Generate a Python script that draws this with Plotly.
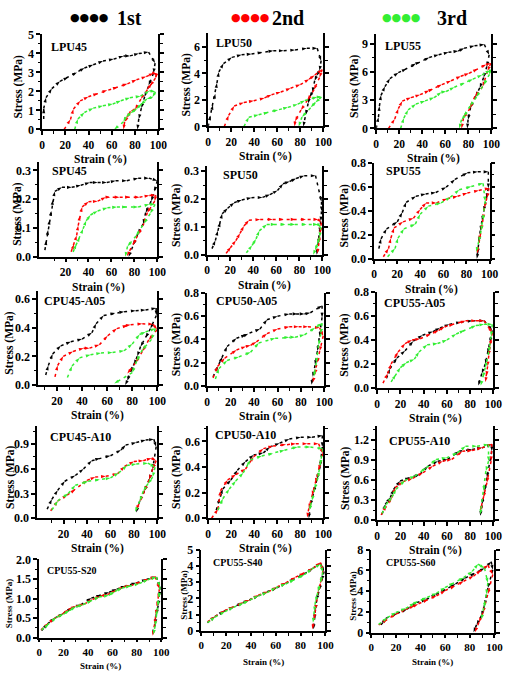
import plotly.graph_objects as go

# ------------------------------------------------------------------ data
# Each panel: strain (%) / stress (MPa) for 1st, 2nd, 3rd cycle (loading + unloading)
LPU45_x1 = [1.4, 1.4, 3.4, 8.4, 15.4, 22.4, 30, 36.4, 44, 52.4, 61.6, 70, 75.6, 83.2, 91.6, 97.2, 95.8, 91.6, 88.2, 85.4, 83.2, 82]
LPU45_y1 = [0.55, 1.1, 1.67, 2.15, 2.53, 2.75, 3.0, 3.23, 3.4, 3.6, 3.7, 3.87, 3.87, 3.99, 4.07, 3.49, 2.96, 2.32, 1.72, 1.12, 0.55, 0]
LPU45_x2 = [19, 24.4, 27, 32.8, 39.8, 48, 56, 65, 73.4, 81.2, 89.6, 95.8, 98.5, 97.5, 93, 90, 85, 80, 76, 73, 71, 70]
LPU45_y2 = [0, 0.52, 1.07, 1.5, 1.72, 1.89, 2.06, 2.23, 2.4, 2.61, 2.78, 2.96, 2.9, 2.7, 2.3, 2.1, 1.6, 1.05, 0.95, 0.6, 0.4, 0]
LPU45_x3 = [28, 30.8, 36.4, 44, 52.4, 60.8, 67.8, 75.6, 84.6, 92.4, 97.5, 95, 90, 85, 81, 76, 72, 70, 62]
LPU45_y3 = [0, 0.55, 0.89, 1.12, 1.24, 1.34, 1.51, 1.67, 1.75, 2.03, 1.98, 1.7, 1.6, 1.3, 1.07, 0.85, 0.65, 0.4, 0]

LPU50_x1 = [0, 2, 4.2, 6.2, 7.6, 9.3, 13.3, 20.6, 29, 37.6, 47, 56.5, 65.5, 75.4, 85.6, 94.6, 98, 96.6, 94, 92.4, 90.4, 88, 86.7, 84.7, 82.5]
LPU50_y1 = [0, 0.83, 1.61, 2.46, 3.27, 4.1, 4.73, 5.2, 5.39, 5.46, 5.59, 5.7, 5.7, 5.76, 5.88, 5.88, 4.95, 4.2, 3.8, 3.44, 2.58, 2.2, 1.73, 0.88, 0]
LPU50_x2 = [14, 17.8, 22.6, 31, 39.5, 48.9, 55, 63, 71.5, 80, 87.6, 92.4, 98.9, 96.6, 91.8, 86.2, 80.5, 75.4, 75]
LPU50_y2 = [0, 0.83, 1.54, 1.8, 1.93, 2.15, 2.39, 2.59, 2.88, 3.15, 3.56, 3.85, 4.29, 3.68, 2.76, 1.98, 1.24, 0.39, 0]
LPU50_x3 = [31, 35.3, 43.8, 52.3, 60.7, 69.2, 77.7, 84, 94.6, 98.3, 93, 89, 81.4, 78.5]
LPU50_y3 = [0, 0.7, 0.88, 1.07, 1.24, 1.44, 1.68, 1.95, 2.22, 2.22, 1.8, 1.44, 0.71, 0]

LPU55_x1 = [0, 2, 2.8, 4.2, 7.6, 11.9, 19.2, 26.3, 34.5, 38.1, 46, 54.2, 62.7, 71.2, 76.3, 85.3, 93.8, 98, 96, 93.2, 89.8, 86.2, 81.9, 79.7, 79]
LPU55_y1 = [0, 1.2, 2.38, 3.52, 4.45, 5.31, 5.93, 6.34, 6.9, 7.07, 7.55, 7.83, 8.1, 8.24, 8.52, 8.79, 8.93, 7.83, 6.6, 5.41, 4.31, 3.41, 2.24, 0.93, 0]
LPU55_x2 = [10.7, 16.1, 19.2, 22.6, 30.2, 38.1, 46, 49.4, 57, 65, 73.4, 80.5, 88.1, 95.5, 99.4, 96.6, 92.4, 85.6, 81.4, 75.7, 74]
LPU55_y2 = [0, 1.0, 2.1, 2.9, 3.28, 3.59, 4.03, 4.2, 4.66, 5.07, 5.55, 5.86, 6.34, 6.79, 6.93, 6.1, 4.45, 3.41, 2.14, 1.1, 0]
LPU55_x3 = [21.2, 24, 27.7, 34.5, 42.4, 50.3, 56.5, 60.7, 67.8, 76.8, 83.9, 91.8, 98.9, 98.3, 93.2, 87, 81.4, 76.3, 74, 72]
LPU55_y3 = [0, 1.1, 1.97, 2.59, 2.93, 3.28, 3.86, 3.93, 4.38, 4.83, 5.24, 5.69, 6.17, 5.76, 4.62, 3.34, 2.38, 1.28, 0.93, 0]

SPU45_x1 = [2, 3.4, 4.8, 6.2, 7.6, 9, 10.7, 16.9, 25.4, 33.3, 41, 48, 56, 63.6, 73.4, 83.3, 92.6, 100, 97.5, 94.6, 89.8, 87.6, 83, 79, 75]
SPU45_y1 = [0.023, 0.057, 0.093, 0.128, 0.159, 0.197, 0.227, 0.241, 0.241, 0.248, 0.258, 0.258, 0.258, 0.264, 0.264, 0.273, 0.273, 0.264, 0.227, 0.193, 0.153, 0.114, 0.08, 0.04, 0]
SPU45_x2 = [24.9, 27.4, 29.7, 31, 32.5, 34.5, 40, 48, 55, 59, 67, 76, 84.5, 93, 98.6, 97.7, 91.2, 88.4, 83.3, 79, 73.4]
SPU45_y2 = [0.017, 0.043, 0.074, 0.108, 0.142, 0.173, 0.191, 0.193, 0.207, 0.207, 0.207, 0.207, 0.207, 0.213, 0.214, 0.193, 0.153, 0.116, 0.076, 0.043, 0.002]
SPU45_x3 = [26.6, 29.5, 32.4, 35.3, 38, 41.7, 48, 56.5, 64.8, 73.4, 83.3, 93, 98, 93.8, 88.4, 81.4, 74, 72]
SPU45_y3 = [0.017, 0.043, 0.068, 0.097, 0.125, 0.145, 0.159, 0.17, 0.173, 0.173, 0.173, 0.182, 0.182, 0.15, 0.116, 0.072, 0.036, 0]

SPU50_x1 = [4.2, 7.1, 9.3, 11.3, 13, 17.8, 23.4, 30, 38.4, 48, 54.5, 61, 65.8, 71.5, 77.1, 84.2, 94, 99.2, 99.2, 98.5, 97.5, 96.3, 95]
SPU50_y1 = [0.022, 0.051, 0.086, 0.117, 0.147, 0.167, 0.187, 0.197, 0.205, 0.206, 0.216, 0.231, 0.255, 0.263, 0.274, 0.284, 0.284, 0.19, 0.156, 0.12, 0.08, 0.04, 0]
SPU50_x2 = [16.4, 20.6, 24.9, 28.5, 31.9, 36.2, 46, 56.8, 66.4, 76.6, 85.6, 96.3, 99, 98.3, 96.9, 95.5]
SPU50_y2 = [0.005, 0.028, 0.051, 0.077, 0.103, 0.124, 0.127, 0.127, 0.127, 0.127, 0.127, 0.127, 0.115, 0.08, 0.042, 0.005]
SPU50_x3 = [34, 39, 42.4, 45.2, 51.7, 59.3, 67.8, 76.3, 86.2, 96, 98.5, 97.5, 95.5, 93.5, 92]
SPU50_y3 = [0.007, 0.034, 0.057, 0.086, 0.109, 0.109, 0.109, 0.109, 0.109, 0.109, 0.1, 0.063, 0.037, 0.016, 0]

SPU55_x1 = [4, 5.9, 10.7, 20, 24.3, 27.7, 36.2, 44.6, 53.4, 62.4, 70, 80.8, 89.8, 99, 99, 97.2, 95, 93.5, 92, 90.7, 89.8, 89]
SPU55_y1 = [0.084, 0.166, 0.248, 0.307, 0.384, 0.47, 0.52, 0.539, 0.552, 0.596, 0.661, 0.716, 0.724, 0.724, 0.588, 0.506, 0.397, 0.316, 0.234, 0.139, 0.044, 0]
SPU55_x2 = [7.9, 12.4, 14.4, 17.2, 25, 34, 39.8, 45, 54, 63.3, 72.3, 80.8, 90.7, 100, 97.7, 95.5, 94.4, 92.7, 90.7, 89.3]
SPU55_y2 = [0.016, 0.084, 0.171, 0.256, 0.307, 0.337, 0.411, 0.465, 0.465, 0.5, 0.52, 0.547, 0.569, 0.588, 0.506, 0.424, 0.329, 0.239, 0.152, 0.044]
SPU55_x3 = [11.6, 18, 20.6, 25.7, 35.6, 39.8, 46.9, 58, 66, 73.7, 84.2, 94.4, 96.3, 94.4, 92.7, 90.7, 88.4]
SPU55_y3 = [0.016, 0.084, 0.171, 0.248, 0.288, 0.37, 0.438, 0.465, 0.512, 0.574, 0.601, 0.628, 0.479, 0.321, 0.234, 0.144, 0.057]

CPU45A05_x1 = [11, 13.1, 16.5, 23, 31, 40, 47.8, 51.2, 57.2, 66.4, 73.5, 82.7, 90.6, 99, 99.2, 94.5, 90.6, 86.6, 84, 81.4, 78.7, 76.1, 74.3]
CPU45A05_y1 = [0.07, 0.136, 0.216, 0.273, 0.302, 0.32, 0.364, 0.427, 0.484, 0.502, 0.511, 0.518, 0.523, 0.536, 0.484, 0.393, 0.33, 0.268, 0.2, 0.143, 0.093, 0.03, 0]
CPU45A05_x2 = [18.4, 20.5, 25, 32.8, 41.2, 45.9, 53.8, 60.4, 67.7, 76.1, 78.7, 88, 96.6, 99.8, 93.1, 88, 82.7, 76.1]
CPU45A05_y2 = [0.057, 0.136, 0.2, 0.234, 0.257, 0.257, 0.28, 0.343, 0.393, 0.416, 0.42, 0.427, 0.423, 0.386, 0.314, 0.234, 0.155, 0.08]
CPU45A05_x3 = [28.3, 32, 38, 46.7, 55.1, 64.3, 73.5, 80, 85.8, 90.6, 98.4, 95.3, 88, 83.5, 80, 65.6]
CPU45A05_y3 = [0.052, 0.132, 0.189, 0.211, 0.223, 0.227, 0.239, 0.286, 0.352, 0.37, 0.393, 0.318, 0.245, 0.166, 0.086, 0.011]

CPU50A05_x1 = [5, 9, 13, 17, 25, 33, 35, 45, 51, 60, 70, 77, 83, 88, 98, 98, 96, 94, 92, 90, 89]
CPU50A05_y1 = [0.08, 0.17, 0.25, 0.34, 0.41, 0.44, 0.45, 0.49, 0.57, 0.6, 0.62, 0.62, 0.62, 0.63, 0.69, 0.59, 0.42, 0.3, 0.18, 0.08, 0.01]
CPU50A05_x2 = [5, 9, 15, 25, 33, 37, 42, 51, 60, 70, 78, 86, 96, 99, 96, 94, 92, 90]
CPU50A05_y2 = [0.07, 0.17, 0.24, 0.31, 0.34, 0.35, 0.38, 0.45, 0.49, 0.51, 0.51, 0.51, 0.5, 0.43, 0.3, 0.2, 0.1, 0.03]
CPU50A05_x3 = [7, 10, 17, 27, 37, 44, 58, 70, 75, 83, 92, 98, 97, 95, 93, 91]
CPU50A05_y3 = [0.06, 0.15, 0.22, 0.25, 0.29, 0.37, 0.41, 0.42, 0.42, 0.44, 0.5, 0.54, 0.45, 0.35, 0.2, 0.08]

CPU55A05_x1 = [8, 11, 17, 24, 31, 39, 48, 54, 62, 72, 82, 92, 99, 97, 95, 93, 90, 87]
CPU55A05_y1 = [0.08, 0.16, 0.25, 0.31, 0.39, 0.44, 0.47, 0.5, 0.53, 0.55, 0.56, 0.56, 0.48, 0.38, 0.29, 0.2, 0.12, 0.02]
CPU55A05_x2 = [5, 9, 12, 18, 24, 30, 37, 46, 53, 58, 66, 76, 85, 92, 99, 97, 96, 95, 94, 93]
CPU55A05_y2 = [0.04, 0.12, 0.2, 0.3, 0.37, 0.4, 0.41, 0.45, 0.48, 0.51, 0.53, 0.56, 0.56, 0.56, 0.46, 0.35, 0.27, 0.18, 0.1, 0.05]
CPU55A05_x3 = [12, 16, 20, 25, 32, 36, 43, 52, 60, 68, 75, 85, 92, 99, 98, 96, 93, 91, 89]
CPU55A05_y3 = [0.05, 0.11, 0.17, 0.21, 0.24, 0.3, 0.36, 0.37, 0.4, 0.45, 0.48, 0.52, 0.53, 0.53, 0.43, 0.3, 0.17, 0.09, 0.02]

CPU45A10_x1 = [6, 10, 15, 21, 30, 37, 44, 51, 60, 69, 73, 82, 90, 97, 99, 96, 93, 89, 85, 82]
CPU45A10_y1 = [0.11, 0.23, 0.34, 0.45, 0.52, 0.6, 0.7, 0.73, 0.76, 0.83, 0.89, 0.92, 0.95, 0.96, 0.87, 0.6, 0.47, 0.33, 0.21, 0.07]
CPU45A10_x2 = [9, 15, 23, 30, 40, 47, 56, 66, 72, 80, 88, 95, 99, 96, 93, 89, 85, 82]
CPU45A10_y2 = [0.09, 0.21, 0.28, 0.35, 0.46, 0.5, 0.51, 0.54, 0.63, 0.69, 0.7, 0.73, 0.7, 0.6, 0.47, 0.33, 0.21, 0.1]
CPU45A10_x3 = [10, 15, 24, 30, 41, 51, 60, 67, 74, 82, 92, 98, 96, 92, 88, 85, 81]
CPU45A10_y3 = [0.1, 0.21, 0.3, 0.4, 0.45, 0.47, 0.49, 0.55, 0.64, 0.66, 0.67, 0.62, 0.5, 0.42, 0.33, 0.21, 0.08]

CPU50A10_x1 = [7, 9.9, 12.7, 19.7, 25.4, 32.4, 39.4, 47.9, 53.5, 62, 70.4, 80.3, 90.1, 99, 99, 97.2, 94.4, 91.5, 88.7, 87.3]
CPU50A10_y1 = [0.063, 0.157, 0.228, 0.299, 0.375, 0.443, 0.494, 0.511, 0.557, 0.587, 0.62, 0.633, 0.633, 0.646, 0.557, 0.405, 0.304, 0.203, 0.101, 0]
CPU50A10_x2 = [3, 8.5, 10.7, 16.9, 24, 32.4, 39.4, 47.9, 56.3, 67.6, 76, 86, 95.8, 99.5, 95.8, 93, 90.1, 87.3, 85.9]
CPU50A10_y2 = [0, 0.071, 0.215, 0.299, 0.342, 0.385, 0.481, 0.544, 0.565, 0.577, 0.582, 0.582, 0.582, 0.506, 0.38, 0.278, 0.177, 0.076, 0.005]
CPU50A10_x3 = [8.5, 12.7, 18.3, 23.9, 30.4, 36.6, 46.5, 56.3, 66.2, 77.5, 88.7, 99.5, 97.2, 95.2, 92.4, 90.1, 87.9]
CPU50A10_y3 = [0.063, 0.152, 0.228, 0.291, 0.354, 0.456, 0.486, 0.506, 0.532, 0.557, 0.557, 0.544, 0.418, 0.316, 0.228, 0.139, 0.063]

CPU55A10_x1 = [4.2, 7, 11.3, 14.1, 19.7, 28.2, 36.6, 43.7, 52.1, 60.6, 70.4, 81.7, 90.1, 98.6, 98.6, 94.4, 92.4, 90.1, 88.7]
CPU55A10_y1 = [0.089, 0.237, 0.336, 0.459, 0.583, 0.632, 0.681, 0.805, 0.879, 0.904, 1.027, 1.052, 1.077, 1.126, 1.027, 0.632, 0.435, 0.237, 0.064]
CPU55A10_x2 = [3.4, 7.9, 12.7, 15.5, 22, 30.4, 39.4, 47.9, 56.3, 64.2, 73.2, 81.7, 90.1, 98.6, 98, 94.4, 91.5, 88.7]
CPU55A10_y2 = [0.079, 0.212, 0.336, 0.484, 0.573, 0.622, 0.706, 0.805, 0.879, 0.904, 1.027, 1.037, 1.077, 1.136, 0.879, 0.558, 0.336, 0.138]
CPU55A10_x3 = [4.2, 7.9, 12.7, 16.3, 23.9, 32.4, 42.3, 50.7, 59.7, 69, 76, 85.9, 95.8, 95.8, 93.5, 91.5, 88.7]
CPU55A10_y3 = [0.099, 0.237, 0.346, 0.459, 0.593, 0.657, 0.78, 0.904, 0.928, 1.003, 1.101, 1.101, 1.126, 0.879, 0.731, 0.435, 0.089]

CPU55S20_x1 = [2.1, 6.7, 12.8, 20, 26.7, 34.1, 42.7, 50.7, 57.3, 63.5, 70.7, 79.5, 88, 96, 99, 98.5, 97.5, 96, 95, 93]
CPU55S20_y1 = [0.18, 0.35, 0.5, 0.62, 0.76, 0.84, 1.01, 1.09, 1.16, 1.24, 1.32, 1.4, 1.49, 1.55, 1.3, 1.05, 0.82, 0.6, 0.35, 0.08]
CPU55S20_x2 = [1.5, 7.5, 12, 19, 24, 30, 37, 44, 50, 56, 63, 69, 75, 83, 90, 95, 98.5, 97.5, 96.5, 95.5, 94.5, 93]
CPU55S20_y2 = [0.2, 0.37, 0.48, 0.6, 0.72, 0.8, 0.86, 0.98, 1.06, 1.1, 1.2, 1.3, 1.33, 1.42, 1.5, 1.56, 1.25, 1.0, 0.8, 0.58, 0.34, 0.05]
CPU55S20_x3 = [2, 8, 14, 20, 25, 30, 36, 43, 49, 57, 62, 68, 75, 82, 89, 96, 99, 98, 97, 96, 95, 93.5]
CPU55S20_y3 = [0.2, 0.35, 0.52, 0.6, 0.7, 0.79, 0.84, 0.95, 1.04, 1.08, 1.18, 1.27, 1.32, 1.38, 1.48, 1.55, 1.3, 1.02, 0.8, 0.55, 0.3, 0.08]

CPU55S40_x1 = [5, 11, 18, 26, 33, 38, 46, 53, 61, 68, 75, 83, 90, 96, 99, 97, 95, 93, 92, 91, 90.5]
CPU55S40_y1 = [0.5, 0.88, 1.2, 1.46, 1.72, 1.88, 2.15, 2.4, 2.65, 2.92, 3.2, 3.5, 3.85, 4.15, 3.65, 3.1, 2.5, 1.9, 1.3, 0.7, 0.1]
CPU55S40_x2 = [5, 11, 19, 26, 34, 39, 46, 54, 61, 68, 76, 83, 90, 96, 98, 96, 94, 92, 91, 89.5]
CPU55S40_y2 = [0.55, 0.88, 1.25, 1.48, 1.75, 1.9, 2.2, 2.4, 2.7, 2.95, 3.3, 3.55, 3.85, 4.2, 3.7, 2.9, 2.4, 1.3, 0.75, 0.1]
CPU55S40_x3 = [5, 11, 19, 26, 34, 38, 46, 53, 60, 68, 75, 83, 89, 96, 98, 96, 94, 92, 91, 90]
CPU55S40_y3 = [0.5, 0.85, 1.18, 1.45, 1.7, 1.85, 2.15, 2.35, 2.65, 2.88, 3.15, 3.45, 3.8, 4.1, 3.6, 3.0, 2.4, 1.8, 1.2, 0.5]

CPU55S60_x1 = [7.9, 11.8, 21, 29, 36.8, 44.7, 52.6, 60.5, 68.4, 76.3, 84.2, 92, 97.4, 98.7, 94.7, 92, 89.5, 85.5, 83]
CPU55S60_y1 = [0.76, 1.39, 1.86, 2.27, 2.9, 3.2, 3.69, 4.16, 4.69, 5.26, 5.73, 6.2, 6.83, 6.05, 4.3, 2.65, 1.64, 0.76, 0.06]
CPU55S60_x2 = [6, 13, 20, 28, 35, 38, 46, 53, 60, 68, 75, 83, 89, 94.7, 98.7, 94.7, 90.8, 87.4, 84.2]
CPU55S60_y2 = [0.75, 1.3, 1.8, 2.25, 2.6, 2.75, 3.2, 3.55, 4.05, 4.5, 4.95, 5.45, 6.0, 6.5, 5.6, 3.7, 1.95, 1.0, 0.06]
CPU55S60_x3 = [6, 13, 20, 28, 35, 38, 45, 53, 60, 67, 75, 82, 86.8, 92, 94.7, 93.4, 91.6, 89.5]
CPU55S60_y3 = [0.8, 1.45, 1.95, 2.35, 2.85, 3.0, 3.4, 3.8, 4.35, 4.8, 5.3, 5.9, 6.6, 6.2, 4.8, 3.7, 2.4, 1.3]

PANEL_LABELS = ["LPU45", "LPU50", "LPU55", "SPU45", "SPU50", "SPU55",
                "CPU45-A05", "CPU50-A05", "CPU55-A05", "CPU45-A10", "CPU50-A10", "CPU55-A10",
                "CPU55-S20", "CPU55-S40", "CPU55-S60"]
SERIES_NAMES = ["1st", "2nd", "3rd"]
X_TITLE = "Strain (%)"
Y_TITLE = "Stress (MPa)"

PANEL_DATA = [
    [(LPU45_x1, LPU45_y1), (LPU45_x2, LPU45_y2), (LPU45_x3, LPU45_y3)],
    [(LPU50_x1, LPU50_y1), (LPU50_x2, LPU50_y2), (LPU50_x3, LPU50_y3)],
    [(LPU55_x1, LPU55_y1), (LPU55_x2, LPU55_y2), (LPU55_x3, LPU55_y3)],
    [(SPU45_x1, SPU45_y1), (SPU45_x2, SPU45_y2), (SPU45_x3, SPU45_y3)],
    [(SPU50_x1, SPU50_y1), (SPU50_x2, SPU50_y2), (SPU50_x3, SPU50_y3)],
    [(SPU55_x1, SPU55_y1), (SPU55_x2, SPU55_y2), (SPU55_x3, SPU55_y3)],
    [(CPU45A05_x1, CPU45A05_y1), (CPU45A05_x2, CPU45A05_y2), (CPU45A05_x3, CPU45A05_y3)],
    [(CPU50A05_x1, CPU50A05_y1), (CPU50A05_x2, CPU50A05_y2), (CPU50A05_x3, CPU50A05_y3)],
    [(CPU55A05_x1, CPU55A05_y1), (CPU55A05_x2, CPU55A05_y2), (CPU55A05_x3, CPU55A05_y3)],
    [(CPU45A10_x1, CPU45A10_y1), (CPU45A10_x2, CPU45A10_y2), (CPU45A10_x3, CPU45A10_y3)],
    [(CPU50A10_x1, CPU50A10_y1), (CPU50A10_x2, CPU50A10_y2), (CPU50A10_x3, CPU50A10_y3)],
    [(CPU55A10_x1, CPU55A10_y1), (CPU55A10_x2, CPU55A10_y2), (CPU55A10_x3, CPU55A10_y3)],
    [(CPU55S20_x1, CPU55S20_y1), (CPU55S20_x2, CPU55S20_y2), (CPU55S20_x3, CPU55S20_y3)],
    [(CPU55S40_x1, CPU55S40_y1), (CPU55S40_x2, CPU55S40_y2), (CPU55S40_x3, CPU55S40_y3)],
    [(CPU55S60_x1, CPU55S60_y1), (CPU55S60_x2, CPU55S60_y2), (CPU55S60_x3, CPU55S60_y3)],
]

# tick labels per panel
X_TICKS_FULL = [0, 20, 40, 60, 80, 100]
X_TICKS_NOZERO = [20, 40, 60, 80, 100]
Y_TICKS = [
    [0, 1, 2, 3, 4, 5], [0, 2, 4, 6], [0, 3, 6, 9],
    [0, 0.1, 0.2, 0.3], [0, 0.1, 0.2, 0.3], [0, 0.2, 0.4, 0.6, 0.8],
    [0, 0.2, 0.4, 0.6], [0, 0.2, 0.4, 0.6, 0.8], [0, 0.2, 0.4, 0.6, 0.8],
    [0, 0.3, 0.6, 0.9], [0, 0.2, 0.4, 0.6], [0, 0.3, 0.6, 0.9, 1.2],
    [0, 0.5, 1.0, 1.5, 2.0], [0, 1, 2, 3, 4, 5], [0, 2, 4, 6, 8],
]

# ------------------------------------------------------------------ layout geometry (pixels)
W, H = 520, 677
GEOM = [
    (40, 159, 28, 125, [0, 100], [0, 5], "d", 0.5, X_TICKS_FULL),
    (210, 328, 27, 122, [0, 100], [0, 7], "d", 1, X_TICKS_FULL),
    (382, 500, 28, 124, [0, 100], [0, 10], "d", 1.5, X_TICKS_FULL),
    (37, 158, 158, 255, [-3, 100], [0, 0.33], ".1f", 0.05, X_TICKS_NOZERO),
    (209, 327, 162, 253, [0, 100], [0, 0.32], ".1f", 0.05, X_TICKS_FULL),
    (380, 498, 159, 257, [0, 100], [0, 0.8], ".1f", 0.1, X_TICKS_FULL),
    (36, 158, 290, 386, [5, 100], [0, 0.655], ".1f", 0.1, X_TICKS_NOZERO),
    (209, 329, 292, 387, [0, 100], [0, 0.8], ".1f", 0.1, X_TICKS_FULL),
    (383, 502, 291, 389, [0, 100], [0, 0.8], ".1f", 0.1, X_TICKS_FULL),
    (35, 158, 428, 522, [-2.5, 100], [0, 1.12], ".1f", 0.15, X_TICKS_NOZERO),
    (210, 328, 428, 522, [0, 100], [0, 0.72], ".1f", 0.1, X_TICKS_FULL),
    (383, 502, 428, 524, [0, 100], [0, 1.4], ".1f", 0.15, X_TICKS_FULL),
    (37, 162, 564, 644, [0, 100], [0, 2.0], ".1f", 0.25, X_TICKS_FULL),
    (203, 330, 554, 637, [0, 100], [0, 5], "d", 0.5, X_TICKS_FULL),
    (377, 503, 554, 639, [0, 100], [0, 8], "d", 1, X_TICKS_FULL),
]
LABEL_POS = [(47, 41), (216, 37), (389, 40), (48, 167), (223, 172), (390, 167),
             (40, 300), (216, 300), (388, 302), (46, 439), (215, 437), (393, 443),
             (43, 575), (213, 567), (390, 567)]
YTITLE_X = [16, 188, 360, 14, 177, 350, 7, 177, 350, 7, 177, 350, 7, 185, 358]
XTITLE_Y = [156, 153, 155, 286, 284, 288, 417, 418, 420, 553, 553, 555, 673, 669, 669]

COLORS = ["#000000", "#ff0000", "#33ee33"]
SERIF = "Liberation Serif"

fig = go.Figure()
layout = dict(width=W, height=H, margin=dict(l=0, r=0, t=0, b=0),
              paper_bgcolor="white", plot_bgcolor="white", showlegend=False)
annotations = []

def px_x(p):
    return p / W

def px_y(p):
    return 1 - p / H

for i, (series, geom) in enumerate(zip(PANEL_DATA, GEOM)):
    n = i + 1
    xa = "x" if n == 1 else f"x{n}"
    ya = "y" if n == 1 else f"y{n}"
    xkey = "xaxis" if n == 1 else f"xaxis{n}"
    ykey = "yaxis" if n == 1 else f"yaxis{n}"
    l, r, t, b, xr, yr, yfmt, yminor, xticks = geom
    small = n >= 13
    for k, (xs, ys) in enumerate(series):
        fig.add_trace(go.Scatter(
            x=xs, y=ys, xaxis=xa, yaxis=ya, name=SERIES_NAMES[k],
            mode="lines+markers", cliponaxis=False,
            line=dict(color=COLORS[k], width=1.5, dash="3px,4px"),
            marker=dict(symbol="arrow", size=5, angleref="previous", color=COLORS[k]),
            showlegend=False))
    xtickfont = dict(family=SERIF, size=11 if small else 11.5, color="black", weight="bold")
    ytickfont = dict(family=SERIF, size=12, color="black", weight="bold")
    layout[xkey] = dict(
        domain=[px_x(l), px_x(r)], anchor=ya, range=xr,
        tickmode="array", tickvals=xticks, ticktext=[str(v) for v in xticks],
        showline=True, linecolor="black", linewidth=1.5,
        ticks="outside", ticklen=3 if small else 4, tickwidth=1.5, tickcolor="black",
        minor=dict(tickmode="array", tickvals=[10, 30, 50, 70, 90], ticks="outside", ticklen=3, tickwidth=1, tickcolor="black"),
        showgrid=False, zeroline=False, tickfont=xtickfont, fixedrange=True)
    ytv = Y_TICKS[i]
    ytt = [format(v, ".1f") if yfmt == ".1f" else str(int(v)) for v in ytv]
    mv = []
    v = yminor
    while v < yr[1] - 1e-9:
        mv.append(round(v, 4))
        v += yminor
    layout[ykey] = dict(
        domain=[px_y(b), px_y(t)], anchor=xa, range=yr,
        tickmode="array", tickvals=ytv, ticktext=ytt,
        showline=True, linecolor="black", linewidth=1.5, mirror="ticks",
        ticks="outside", ticklen=4, tickwidth=1.5, tickcolor="black",
        minor=dict(tickmode="array", tickvals=mv, ticks="outside", ticklen=2.5, tickwidth=1, tickcolor="black"),
        showgrid=False, zeroline=False, tickfont=ytickfont, fixedrange=True)

    lx, ly = LABEL_POS[i]
    annotations.append(dict(
        text=f"<b>{PANEL_LABELS[i]}</b>", x=px_x(lx), y=px_y(ly), xref="paper", yref="paper",
        xanchor="left", yanchor="middle", showarrow=False,
        font=dict(family=SERIF, size=10 if small else 12, color="black")))
    annotations.append(dict(
        text=f"<b>{X_TITLE}</b>", x=px_x((l + r) / 2), y=px_y(XTITLE_Y[i]), xref="paper", yref="paper",
        xanchor="center", yanchor="middle", showarrow=False,
        font=dict(family=SERIF, size=9 if small else 11.5, color="black")))
    annotations.append(dict(
        text=f"<b>{Y_TITLE}</b>", x=px_x(YTITLE_X[i]), y=px_y((t + b) / 2 + 5), xref="paper", yref="paper",
        xanchor="center", yanchor="middle", showarrow=False, textangle=-90,
        font=dict(family=SERIF, size=9 if small else 11.5, color="black")))

LEG_DOTS_X = [88, 253, 407]
LEG_TEXT_X = [115, 273, 442]
for k in range(3):
    annotations.append(dict(
        text="●●●●", x=px_x(LEG_DOTS_X[k]), y=px_y(11), xref="paper", yref="paper",
        xanchor="center", yanchor="middle", showarrow=False,
        font=dict(family="DejaVu Sans", size=11, color=COLORS[k])))
    annotations.append(dict(
        text=f"<b>{SERIES_NAMES[k]}</b>", x=px_x(LEG_TEXT_X[k]), y=px_y(11), xref="paper", yref="paper",
        xanchor="left", yanchor="middle", showarrow=False,
        font=dict(family=SERIF, size=20, color="black")))

layout["annotations"] = annotations
fig.update_layout(**layout)
fig.write_html("out.html", config={"displayModeBar": False},
               post_script="document.body.style.margin='0px';document.body.style.overflow='hidden';")
